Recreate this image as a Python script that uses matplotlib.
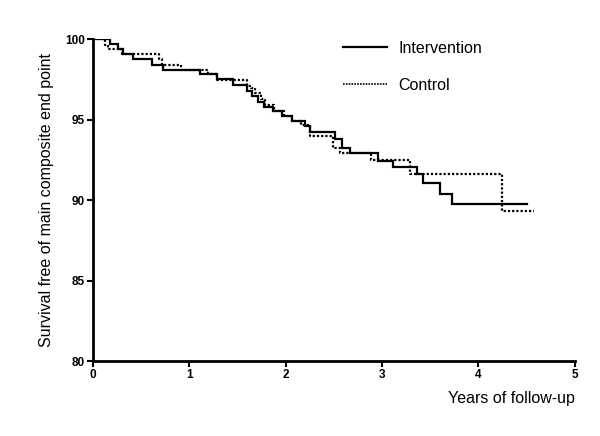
import matplotlib
matplotlib.use("Agg")
import matplotlib.pyplot as plt
from matplotlib.lines import Line2D

plt.rcParams['font.family'] = ['Liberation Sans', 'DejaVu Sans']

# Intervention (solid) step curve: times (years) and survival (%)
int_t = [0, 0.18, 0.26, 0.31, 0.41, 0.61, 0.73, 1.11, 1.29, 1.45, 1.60, 1.65, 1.71,
         1.77, 1.87, 1.96, 2.06, 2.20, 2.25, 2.51, 2.58, 2.67, 2.96, 3.11, 3.36,
         3.42, 3.60, 3.73, 4.50]
int_s = [100, 99.7, 99.4, 99.1, 98.75, 98.4, 98.1, 97.8, 97.5, 97.15, 96.8, 96.45, 96.1,
         95.8, 95.5, 95.2, 94.9, 94.6, 94.2, 93.8, 93.2, 92.9, 92.4, 92.05, 91.6,
         91.05, 90.4, 89.75, 89.75]

# Control (dotted) step curve
ctl_t = [0, 0.12, 0.16, 0.30, 0.68, 0.72, 0.91, 1.19, 1.29, 1.60, 1.64, 1.68, 1.74,
         1.79, 1.88, 1.98, 2.06, 2.16, 2.25, 2.49, 2.56, 2.89, 3.29, 4.24, 4.58]
ctl_s = [100, 99.6, 99.35, 99.1, 98.75, 98.4, 98.1, 97.8, 97.45, 97.1, 96.95, 96.65, 96.3,
         95.9, 95.5, 95.2, 94.9, 94.65, 94.0, 93.2, 92.9, 92.5, 91.6, 89.3, 89.3]

x_ticks = [0, 1, 2, 3, 4, 5]
y_ticks = [80, 85, 90, 95, 100]

fig = plt.figure(figsize=(6.0, 4.36), dpi=100)
ax = fig.add_axes([0.155, 0.172, 0.803, 0.7385])

ax.plot(int_t, int_s, drawstyle='steps-post', color='black', lw=1.6,
        solid_joinstyle='miter')
ax.plot(ctl_t, ctl_s, drawstyle='steps-post', color='black', lw=1.6,
        linestyle=(0, (1.0, 0.9)))

ax.set_xlim(0, 5)
ax.set_ylim(80, 100)
ax.set_xticks(x_ticks)
ax.set_yticks(y_ticks)
ax.set_xticklabels([str(v) for v in x_ticks], fontsize=8.5, fontweight='bold')
ax.set_yticklabels([str(v) for v in y_ticks], fontsize=8.5, fontweight='bold')
ax.tick_params(direction='out', length=4, width=1.5, pad=2)

for s in ['top', 'right']:
    ax.spines[s].set_visible(False)
for s in ['left', 'bottom']:
    ax.spines[s].set_linewidth(2)

ax.set_ylabel('Survival free of main composite end point', fontsize=11.5, labelpad=8)
ax.set_xlabel('Years of follow-up', fontsize=11.5, loc='right', labelpad=7)

handles = [Line2D([], [], color='black', lw=1.6),
           Line2D([], [], color='black', lw=1.2, linestyle=(0, (1.0, 0.7)))]
leg = ax.legend(handles, ['Intervention', 'Control'], loc='upper left',
                bbox_to_anchor=(0.49, 1.04), frameon=False, fontsize=11.5,
                handlelength=2.7, handletextpad=0.75, labelspacing=1.4)

fig.savefig('out.png', dpi=100)
